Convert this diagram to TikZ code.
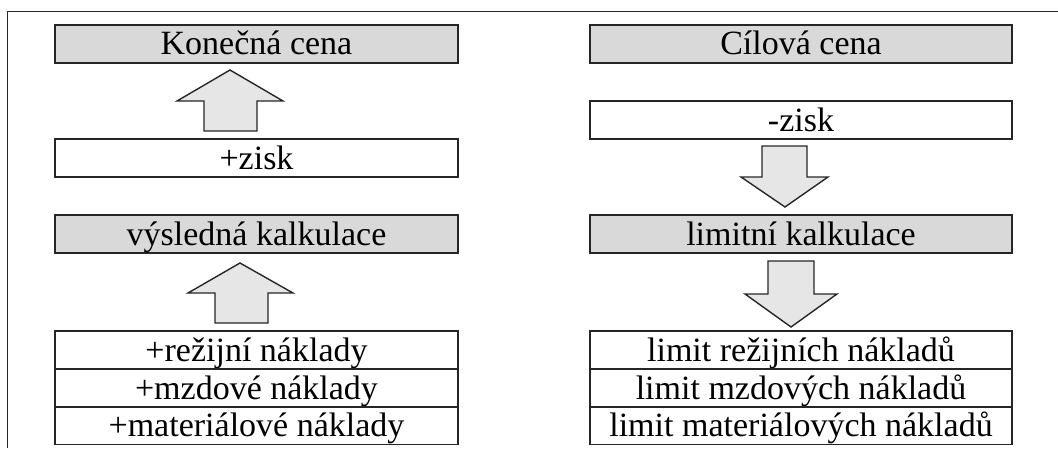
\documentclass[tikz,border=0pt]{standalone}
\usepackage{fontspec}
\setmainfont{Liberation Serif}
\definecolor{edge}{HTML}{262626}
\definecolor{headfill}{HTML}{D9D9D9}
\definecolor{arrowfill}{HTML}{E6E6E6}
\begin{document}
\begin{tikzpicture}[x=1pt,y=-1pt,
  box/.style={draw=edge, line width=1.6pt, minimum height=38pt, inner sep=0pt,
    font=\fontsize{34}{40}\selectfont, text height=22pt, text depth=0pt},
  lbox/.style={box, minimum width=403pt},
  rbox/.style={box, minimum width=422pt},
  shaded/.style={fill=headfill},
  blockarrow/.style={draw=edge, line width=1.4pt, fill=arrowfill, line join=miter},
  frame/.style={draw=edge, line width=1pt}
]
\useasboundingbox (0,0) rectangle (1058,452);

% outer frame (top and left edges)
\draw[frame] (1058,12) -- (7,12) -- (7,448);

% left column: bottom-up build of the final price
\node[lbox, shaded] (finalprice) at (256.5,44) {Konečná cena};
\node[lbox] (profitplus) at (256.5,158) {+zisk};
\node[lbox, shaded] (resultcalc) at (256.5,234) {výsledná kalkulace};
\node[lbox] (overheadplus) at (256.5,350) {+režijní náklady};
\node[lbox] (wageplus) at (256.5,388) {+mzdové náklady};
\node[lbox] (materialplus) at (256.5,425.5) {+materiálové náklady};

% right column: top-down derivation from the target price
\node[rbox, shaded] (targetprice) at (801,44) {Cílová cena};
\node[rbox] (profitminus) at (801,120) {-zisk};
\node[rbox, shaded] (limitcalc) at (801,234) {limitní kalkulace};
\node[rbox] (overheadlimit) at (801,350) {limit režijních nákladů};
\node[rbox] (wagelimit) at (801,388) {limit mzdových nákladů};
\node[rbox] (materiallimit) at (801,425.5) {limit materiálových nákladů};

% block arrows pointing up (left column)
\draw[blockarrow] (230,70) -- (283,101) -- (257,101) -- (257,131) -- (204,131)
  -- (204,101) -- (177,101) -- cycle;
\draw[blockarrow] (240,263) -- (293,293) -- (268,293) -- (268,323) -- (215,323)
  -- (215,293) -- (188,293) -- cycle;

% block arrows pointing down (right column)
\draw[blockarrow] (762,146) -- (807,146) -- (807,177) -- (828,177) -- (785,207)
  -- (741,177) -- (762,177) -- cycle;
\draw[blockarrow] (768,261) -- (814,261) -- (814,294) -- (837,294) -- (791,327)
  -- (745,294) -- (768,294) -- cycle;
\end{tikzpicture}
\end{document}
